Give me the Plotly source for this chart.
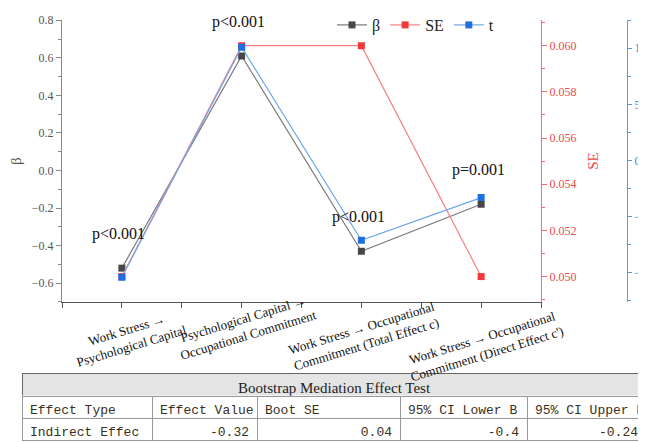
import plotly.graph_objects as go

# ---------------- data ----------------
categories = [
    "Work Stress →<br>Psychological Capital",
    "Psychological Capital →<br>Occupational Commitment",
    "Work Stress → Occupational<br>Commitment (Total Effect c)",
    "Work Stress → Occupational<br>Commitment (Direct Effect c')",
]
beta = [-0.52, 0.61, -0.43, -0.18]
se = [0.050, 0.060, 0.060, 0.050]
tval = [-10.4, 10.1, -7.1, -3.3]
pvals = ["p<0.001", "p<0.001", "p<0.001", "p=0.001"]

table_title = "Bootstrap Mediation Effect Test"
table_cols = ["Effect Type", "Effect Value", "Boot SE", "95% CI Lower B", "95% CI Upper B"]
table_row = ["Indirect Effec", "-0.32", "0.04", "-0.4", "-0.24"]

# ---------------- style ----------------
OFF = 8  # page body margin
W, H = 646 - OFF, 442 - OFF
SERIF = "Liberation Serif, Times New Roman, serif"
MONO = "Liberation Mono, Courier New, monospace"
xpos = [1, 2, 3, 4]

def px_x(p):
    return (p - OFF) / W

def px_y(p):
    return (H - (p - OFF)) / H

def nb(s):
    return s.replace(" ", "\u00a0")

x_dom = [px_x(62), px_x(541)]
y_dom = [px_y(301), px_y(17.3)]

fig = go.Figure()

fig.add_trace(go.Scatter(
    x=xpos, y=beta, name="β", mode="lines+markers", yaxis="y",
    line=dict(color="#7a7a7a", width=1.2),
    marker=dict(symbol="square", size=7, color="#474747", line=dict(width=0)),
))
fig.add_trace(go.Scatter(
    x=xpos, y=se, name="SE", mode="lines+markers", yaxis="y2",
    line=dict(color="#f58080", width=1.2),
    marker=dict(symbol="square", size=7, color="#f03a3a", line=dict(width=0)),
))
fig.add_trace(go.Scatter(
    x=xpos, y=tval, name="t", mode="lines+markers", yaxis="y3",
    line=dict(color="#6ea6ea", width=1.2),
    marker=dict(symbol="square", size=7, color="#1e6fe0", line=dict(width=0)),
))

# p-value labels above beta points
for xi, b, p in zip(xpos, beta, pvals):
    fig.add_annotation(x=xi, y=b, xref="x", yref="y", text=p, showarrow=False,
                       yshift=34, xshift=-3,
                       font=dict(family=SERIF, size=16, color="#111"))

# category labels (rotated)
lab_dx = [7, 4, 3, 3]
lab_y = [337, 326, 335, 345]
for xi, c, dx, yy in zip(xpos, categories, lab_dx, lab_y):
    fig.add_annotation(x=xi, y=px_y(yy), xref="x", yref="paper", text=c,
                       showarrow=False, xshift=dx, textangle=-17,
                       xanchor="center", yanchor="middle",
                       font=dict(family=SERIF, size=13, color="#111"))

# tables
fig.add_trace(go.Table(
    domain=dict(x=[px_x(22), 1], y=[px_y(396), px_y(373)]),
    header=dict(values=[table_title], fill_color="#e4e4e4",
                line=dict(color="#666", width=1), height=23, align="center",
                font=dict(family=SERIF, size=15, color="#222")),
    cells=dict(values=[[]]),
))
fig.add_trace(go.Table(
    domain=dict(x=[px_x(22), 1], y=[0, px_y(396)]),
    columnwidth=[130, 105, 143, 127, 119],
    header=dict(values=[nb(c) for c in table_cols], fill_color="white",
                line=dict(color="#999", width=1), height=22, align="left",
                font=dict(family=MONO, size=13, color="#3a3020")),
    cells=dict(values=[[nb(v)] for v in table_row], fill_color="white",
               line=dict(color="#999", width=1), height=22,
               align=["left", "right", "right", "right", "right"],
               font=dict(family=MONO, size=13, color="#3a3020")),
))

fig.update_layout(
    width=W, height=H,
    margin=dict(l=0, r=0, t=0, b=0),
    paper_bgcolor="white", plot_bgcolor="white",
    showlegend=True,
    legend=dict(orientation="h", x=px_x(332), y=px_y(22), xanchor="left",
                yanchor="middle", bgcolor="rgba(0,0,0,0)",
                font=dict(family=SERIF, size=16, color="#222"),
                itemwidth=30, tracegroupgap=0),
    xaxis=dict(domain=x_dom, range=[0.5, 4.5], tickmode="array",
               tickvals=[0.5, 1, 1.5, 2, 2.5, 3, 3.5, 4, 4.5],
               showticklabels=False, ticks="outside", ticklen=5,
               tickcolor="#555", showline=True, linecolor="#555",
               linewidth=1, showgrid=False, zeroline=False, anchor="y"),
    yaxis=dict(domain=y_dom, range=[-0.7, 0.8], dtick=0.2, tick0=0,
               tickformat=".1f", ticks="outside", ticklen=5,
               tickcolor="#888", showline=True, linecolor="#888",
               minor=dict(dtick=0.1, ticklen=3, tickcolor="#888", ticks="outside"),
               showgrid=False, zeroline=False, automargin=False,
               tickfont=dict(family=SERIF, size=12, color="#555"),
               title=dict(text="β", font=dict(family=SERIF, size=15, color="#555"),
                          standoff=10)),
    yaxis2=dict(overlaying="y", side="right", anchor="x",
                range=[0.0489, 0.0611], dtick=0.002, tick0=0.05,
                tickformat=".3f", ticks="outside", ticklen=5,
                tickcolor="#f47070", showline=True, linecolor="#f47070",
                minor=dict(dtick=0.001, ticklen=3, tickcolor="#f47070", ticks="outside"),
                showgrid=False, zeroline=False, automargin=False,
                tickfont=dict(family=SERIF, size=12, color="#e84a4a"),
                title=dict(text="SE", font=dict(family=SERIF, size=15, color="#e84a4a"),
                           standoff=12)),
    yaxis3=dict(overlaying="y", side="right", anchor="free",
                position=px_x(627), range=[-12.6, 12.5], dtick=5, tick0=0,
                ticks="outside", ticklen=4,
                tickcolor="#5c9ae6", showline=True, linecolor="#5c9ae6",
                minor=dict(dtick=2.5, ticklen=3, tickcolor="#5c9ae6", ticks="outside"),
                showgrid=False, zeroline=False, automargin=False,
                tickfont=dict(family=SERIF, size=12, color="#3a80dd")),
)

fig.write_html("out.html")
